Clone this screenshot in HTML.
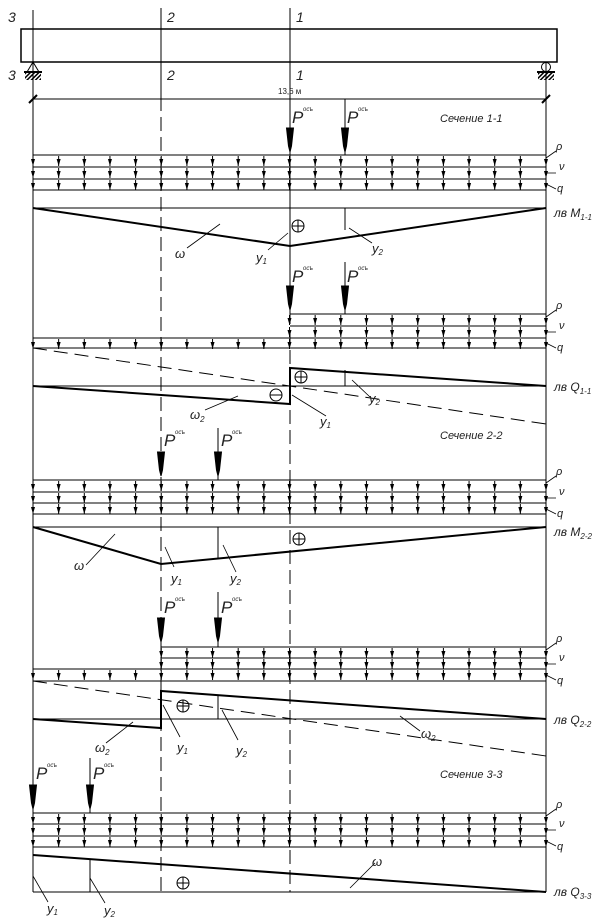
<!DOCTYPE html>
<html><head><meta charset="utf-8"><style>
html,body{margin:0;padding:0;background:#fff;}
svg{display:block;}
text{font-family:"Liberation Sans",sans-serif;font-style:italic;fill:#222;}
</style></head><body>
<svg width="614" height="923" viewBox="0 0 614 923" xmlns="http://www.w3.org/2000/svg">
<defs>
<path id="ah" d="M-2 3h4l-2 7z" fill="#000"/>
<g id="row">
<path stroke="#000" stroke-width="1" d="M33 0v10M58.65 0v10M84.3 0v10M109.95 0v10M135.6 0v10M161.25 0v10M186.9 0v10M212.55 0v10M238.2 0v10M263.85 0v10M289.5 0v10M315.15 0v10M340.8 0v10M366.45 0v10M392.1 0v10M417.75 0v10M443.4 0v10M469.05 0v10M494.7 0v10M520.35 0v10M546 0v10"/>
<use href="#ah" x="33"/><use href="#ah" x="58.65"/><use href="#ah" x="84.3"/><use href="#ah" x="109.95"/><use href="#ah" x="135.6"/><use href="#ah" x="161.25"/><use href="#ah" x="186.9"/><use href="#ah" x="212.55"/><use href="#ah" x="238.2"/><use href="#ah" x="263.85"/><use href="#ah" x="289.5"/><use href="#ah" x="315.15"/><use href="#ah" x="340.8"/><use href="#ah" x="366.45"/><use href="#ah" x="392.1"/><use href="#ah" x="417.75"/><use href="#ah" x="443.4"/><use href="#ah" x="469.05"/><use href="#ah" x="494.7"/><use href="#ah" x="520.35"/><use href="#ah" x="546"/>
</g>
<clipPath id="c1"><rect x="287" y="0" width="300" height="923"/></clipPath>
<clipPath id="c2"><rect x="158" y="0" width="420" height="923"/></clipPath>
<pattern id="hatch" patternUnits="userSpaceOnUse" width="3" height="3" patternTransform="rotate(45)"><rect width="1.5" height="3" fill="#000"/></pattern>
</defs>

<g stroke="#000" fill="none" stroke-width="1">
<line x1="33" y1="10" x2="33" y2="892"/>
<line x1="546" y1="62" x2="546" y2="892"/>
<line x1="161" y1="8" x2="161" y2="97"/>
<line x1="161" y1="97" x2="161" y2="892" stroke-dasharray="14,6"/>
<line x1="290" y1="8" x2="290" y2="250"/>
<line x1="290" y1="250" x2="290" y2="892" stroke-dasharray="14,6"/>
<rect x="21" y="29" width="536" height="33" stroke-width="1.5"/>
<path d="M33 62L27 72H39Z"/>
<line x1="24" y1="72" x2="42" y2="72" stroke-width="2"/>
<circle cx="546" cy="67" r="4.5"/>
<line x1="537" y1="72" x2="555" y2="72" stroke-width="2"/>
<line x1="33" y1="99" x2="546" y2="99"/>
<line x1="29" y1="103" x2="37" y2="95" stroke-width="2"/>
<line x1="542" y1="103" x2="550" y2="95" stroke-width="2"/>
</g>
<rect x="25" y="73" width="16" height="7" fill="url(#hatch)"/>
<rect x="538" y="73" width="16" height="7" fill="url(#hatch)"/>

<g font-size="14">
<text x="8" y="22">3</text><text x="167" y="22">2</text><text x="296" y="22">1</text>
<text x="8" y="80">3</text><text x="167" y="80">2</text><text x="296" y="80">1</text>
</g>
<text x="278" y="94" font-size="8" style="font-style:normal">13,6 м</text>

<g stroke="#000" stroke-width="1">
<line x1="33" y1="155" x2="546" y2="155"/><line x1="33" y1="167" x2="546" y2="167"/><line x1="33" y1="179" x2="546" y2="179"/><line x1="33" y1="190" x2="546" y2="190"/>
<line x1="290" y1="314" x2="546" y2="314"/><line x1="290" y1="326" x2="546" y2="326"/><line x1="33" y1="338" x2="546" y2="338"/><line x1="33" y1="348" x2="546" y2="348"/>
<line x1="33" y1="480" x2="546" y2="480"/><line x1="33" y1="492" x2="546" y2="492"/><line x1="33" y1="503" x2="546" y2="503"/><line x1="33" y1="514" x2="546" y2="514"/>
<line x1="161" y1="647" x2="546" y2="647"/><line x1="161" y1="658" x2="546" y2="658"/><line x1="33" y1="669" x2="546" y2="669"/><line x1="33" y1="681" x2="546" y2="681"/>
<line x1="33" y1="813" x2="546" y2="813"/><line x1="33" y1="824" x2="546" y2="824"/><line x1="33" y1="836" x2="546" y2="836"/><line x1="33" y1="847" x2="546" y2="847"/>
</g>
<use href="#row" y="156"/><use href="#row" y="168"/><use href="#row" y="180"/>
<use href="#row" y="315" clip-path="url(#c1)"/><use href="#row" y="327" clip-path="url(#c1)"/><use href="#row" y="339"/>
<use href="#row" y="481"/><use href="#row" y="493"/><use href="#row" y="504"/>
<use href="#row" y="648" clip-path="url(#c2)"/><use href="#row" y="659" clip-path="url(#c2)"/><use href="#row" y="670"/>
<use href="#row" y="814"/><use href="#row" y="825"/><use href="#row" y="837"/>

<g stroke="#000" stroke-width="1" fill="#000">
<line x1="290" y1="99" x2="290" y2="155"/><path d="M286.5 128h7l-2 18-1.5 6-1.5-6z"/>
<line x1="345" y1="99" x2="345" y2="155"/><path d="M341.5 128h7l-2 18-1.5 6-1.5-6z"/>
<line x1="290" y1="262" x2="290" y2="314"/><path d="M286.5 286h7l-2 18-1.5 6-1.5-6z"/>
<line x1="345" y1="262" x2="345" y2="314"/><path d="M341.5 286h7l-2 18-1.5 6-1.5-6z"/>
<line x1="218" y1="428" x2="218" y2="480"/><path d="M157.5 452h7l-2 18-1.5 6-1.5-6z"/>
<path d="M214.5 452h7l-2 18-1.5 6-1.5-6z"/>
<line x1="218" y1="592" x2="218" y2="647"/><path d="M157.5 618h7l-2 18-1.5 6-1.5-6z"/>
<path d="M214.5 618h7l-2 18-1.5 6-1.5-6z"/>
<line x1="90" y1="758" x2="90" y2="813"/><path d="M29.5 785h7l-2 18-1.5 6-1.5-6z"/>
<path d="M86.5 785h7l-2 18-1.5 6-1.5-6z"/>
</g>
<g font-size="17">
<text x="292" y="123">P</text><text x="347" y="123">P</text>
<text x="292" y="282">P</text><text x="347" y="282">P</text>
<text x="164" y="446">P</text><text x="221" y="446">P</text>
<text x="164" y="613">P</text><text x="221" y="613">P</text>
<text x="36" y="779">P</text><text x="93" y="779">P</text>
</g>
<g font-size="6" style="font-style:normal">
<text x="303" y="111">осъ</text><text x="358" y="111">осъ</text>
<text x="303" y="270">осъ</text><text x="358" y="270">осъ</text>
<text x="175" y="434">осъ</text><text x="232" y="434">осъ</text>
<text x="175" y="601">осъ</text><text x="232" y="601">осъ</text>
<text x="47" y="767">осъ</text><text x="104" y="767">осъ</text>
</g>
<g font-size="11">
<text x="440" y="122">Сечение 1-1</text>
<text x="440" y="439">Сечение 2-2</text>
<text x="440" y="778">Сечение 3-3</text>
</g>

<g stroke="#000" stroke-width="0.8" fill="none">
<path d="M546 158L556 151M546 173h10M546 184L556 189"/>
<path d="M546 317L556 310M546 332h10M546 343L556 348"/>
<path d="M546 483L556 476M546 498h10M546 509L556 514"/>
<path d="M546 650L556 643M546 664h10M546 675L556 680"/>
<path d="M546 816L556 809M546 830h10M546 841L556 846"/>
</g>
<g font-size="11">
<text x="556" y="150">ρ</text><text x="559" y="170">ν</text><text x="557" y="192">q</text>
<text x="556" y="309">ρ</text><text x="559" y="329">ν</text><text x="557" y="351">q</text>
<text x="556" y="475">ρ</text><text x="559" y="495">ν</text><text x="557" y="517">q</text>
<text x="556" y="642">ρ</text><text x="559" y="661">ν</text><text x="557" y="684">q</text>
<text x="556" y="808">ρ</text><text x="559" y="827">ν</text><text x="557" y="850">q</text>
</g>
<g font-size="12">
<text x="554" y="217">лв M<tspan font-size="8" dy="3">1-1</tspan></text>
<text x="554" y="391">лв Q<tspan font-size="8" dy="3">1-1</tspan></text>
<text x="554" y="536">лв M<tspan font-size="8" dy="3">2-2</tspan></text>
<text x="554" y="724">лв Q<tspan font-size="8" dy="3">2-2</tspan></text>
<text x="554" y="896">лв Q<tspan font-size="8" dy="3">3-3</tspan></text>
</g>

<g stroke="#000" fill="none">
<line x1="33" y1="208" x2="546" y2="208" stroke-width="1"/>
<polyline points="33,208 290,246 546,208" stroke-width="2"/>
<line x1="345" y1="208" x2="345" y2="230"/>
<circle cx="298" cy="226" r="6"/><path d="M292 226h12M298 220v12"/>
<path d="M187 248L220 224M268 250L288 233M349 228L372 243" stroke-width="0.8"/>

<line x1="33" y1="386" x2="546" y2="386"/>
<line x1="33" y1="348" x2="546" y2="424" stroke-dasharray="14,7"/>
<polyline points="33,386 290,404 290,368 546,386" stroke-width="2"/>
<line x1="345" y1="370" x2="345" y2="386"/>
<circle cx="301" cy="377" r="6"/><path d="M295 377h12M301 371v12"/>
<circle cx="276" cy="395" r="6"/><path d="M270 395h12"/>
<path d="M205 410L238 396M292 395L326 416M352 380L370 397" stroke-width="0.8"/>

<line x1="33" y1="527" x2="546" y2="527"/>
<polyline points="33,527 161,564 546,527" stroke-width="2"/>
<line x1="218" y1="527" x2="218" y2="559"/>
<circle cx="299" cy="539" r="6"/><path d="M293 539h12M299 533v12"/>
<path d="M86 565L115 534M165 547L174 567M223 545L236 572" stroke-width="0.8"/>

<line x1="33" y1="719" x2="546" y2="719"/>
<line x1="33" y1="681" x2="546" y2="756" stroke-dasharray="14,7"/>
<polyline points="33,719 161,728 161,691 546,719" stroke-width="2"/>
<line x1="218" y1="695" x2="218" y2="719"/>
<circle cx="183" cy="706" r="6"/><path d="M177 706h12M183 700v12"/>
<path d="M106 743L133 722M163 705L180 737M222 710L238 740M400 716L420 731" stroke-width="0.8"/>

<line x1="33" y1="892" x2="546" y2="892"/>
<line x1="33" y1="855" x2="546" y2="892" stroke-width="2"/>
<line x1="90" y1="859" x2="90" y2="892"/>
<circle cx="183" cy="883" r="6"/><path d="M177 883h12M183 877v12"/>
<path d="M33 876L48 902M90 878L105 903M350 888L375 863" stroke-width="0.8"/>
</g>
<g font-size="13">
<text x="175" y="258">ω</text>
<text x="256" y="262">y<tspan font-size="8" dy="2">1</tspan></text>
<text x="372" y="253">y<tspan font-size="8" dy="2">2</tspan></text>
<text x="190" y="419">ω<tspan font-size="8" dy="3">2</tspan></text>
<text x="320" y="426">y<tspan font-size="8" dy="2">1</tspan></text>
<text x="369" y="403">y<tspan font-size="8" dy="2">2</tspan></text>
<text x="74" y="570">ω</text>
<text x="171" y="583">y<tspan font-size="8" dy="2">1</tspan></text>
<text x="230" y="583">y<tspan font-size="8" dy="2">2</tspan></text>
<text x="95" y="752">ω<tspan font-size="8" dy="3">2</tspan></text>
<text x="177" y="752">y<tspan font-size="8" dy="2">1</tspan></text>
<text x="236" y="755">y<tspan font-size="8" dy="2">2</tspan></text>
<text x="421" y="738">ω<tspan font-size="8" dy="3">2</tspan></text>
<text x="372" y="866">ω</text>
<text x="47" y="913">y<tspan font-size="8" dy="2">1</tspan></text>
<text x="104" y="915">y<tspan font-size="8" dy="2">2</tspan></text>
</g>
</svg>
</body></html>
